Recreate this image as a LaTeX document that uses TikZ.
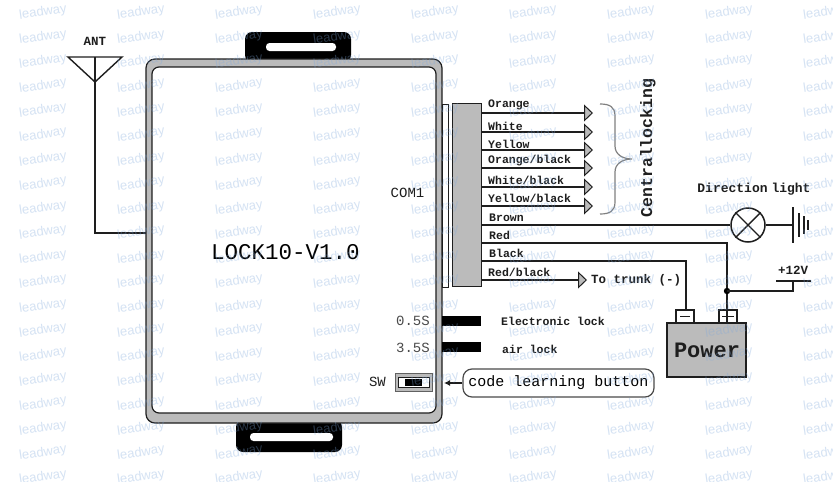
\documentclass[tikz,border=0pt]{standalone}
\usepackage{fontspec}
\setmainfont{Liberation Serif}
\setmonofont{Liberation Mono}
\newfontfamily\wmfont{Liberation Sans}
\usetikzlibrary{arrows.meta,calc}
\definecolor{ink}{HTML}{1E1E1E}
\definecolor{midgray}{HTML}{BBBBBB}
\definecolor{wm}{HTML}{7FA8DC}
\tikzset{
  wire/.style={draw=ink,line width=1.6pt},
  hair/.style={draw=ink,line width=1.4pt},
  tipwire/.style={wire,-{Triangle[length=9pt,width=17pt,fill=midgray,line width=1pt]},shorten >=-1pt},
  lbl/.style={font=\ttfamily\bfseries\fontsize{11.5}{12}\selectfont,text=ink,inner sep=0pt,anchor=west},
  lblc/.style={font=\ttfamily\fontsize{14}{15}\selectfont,text=ink,inner sep=0pt},
  blockbox/.style={draw=ink,fill=midgray,line width=1pt,inner sep=0pt},
  barbox/.style={fill=black,inner sep=0pt,minimum width=39pt,minimum height=10pt},
  termbox/.style={draw=ink,fill=white,line width=1.3pt,inner sep=0pt,minimum width=18pt,minimum height=13pt},
  watermark/.style={font=\wmfont\fontsize{13}{14}\selectfont,text=wm,opacity=.33,rotate=8,inner sep=0pt},
}
\begin{document}
\begin{tikzpicture}[x=1pt,y=-1pt]
\useasboundingbox[fill=white] (0,0) rectangle (833,482);

% mounting tabs
\fill[black,rounded corners=7pt] (245,62) -- (245,32) -- (351,32) -- (351,62) -- cycle;
\fill[white,rounded corners=3.5pt] (266,43) rectangle (336,51);
\fill[black,rounded corners=7pt] (236,420) -- (236,452) -- (342,452) -- (342,420) -- cycle;
\fill[white,rounded corners=3.5pt] (250,433) rectangle (333,441);

% housing
\node[draw=ink,fill=midgray,line width=1.2pt,rounded corners=9pt,inner sep=0pt,minimum width=296pt,minimum height=364pt] (housing) at (294,241) {};
\node[draw=ink,fill=white,line width=1.2pt,rounded corners=7pt,inner sep=0pt,minimum width=284pt,minimum height=346pt] (inner) at (294,240) {};
\node[font=\ttfamily\fontsize{22.5}{24}\selectfont,text=black,inner sep=0pt] (title) at (285.5,252) {LOCK10-V1.0};

% antenna
\coordinate (anttip) at (95,82);
\coordinate (antl) at (68,57);
\coordinate (antr) at (122,57);
\coordinate (antc) at (95,57);
\coordinate (antb) at (95,233);
\coordinate (anth) at (146,233);
\draw[hair,line join=miter] (antl) -- (antr) -- (anttip) -- cycle;
\draw[hair] (antc) -- (antb) -- (anth);
\node[font=\ttfamily\bfseries\fontsize{12.5}{13}\selectfont,text=ink,inner sep=0pt] (ant) at (95,41) {ANT};

% connector
\node[draw=ink,fill=white,line width=1pt,inner sep=0pt,minimum width=6pt,minimum height=183pt] (strip) at (445,195.5) {};
\node[blockbox,minimum width=29pt,minimum height=183pt] (block) at (466.5,194.5) {};
\node[lblc,anchor=center] (com) at (407.5,193) {COM1};

% locking wires
\foreach \n/\y/\ly/\t in {1/113/105/Orange,2/132/126/White,3/150/144/Yellow,4/168/161/Orange\slash black,5/187/180/White\slash black,6/206/198/Yellow\slash black}{
  \coordinate (ws\n) at (481,\y);
  \coordinate (we\n) at (592,\y);
  \draw[tipwire] (ws\n) -- (we\n);
  \node[lbl] (wl\n) at (488,\ly) {\t};
}

% brace
\coordinate (bt) at (600,104);
\coordinate (bm) at (632,159);
\coordinate (bb) at (600,214);
\draw[draw=gray,line width=1.2pt] (bt) .. controls (610,104) and (615,107) .. (615,116) -- (615,146) .. controls (615,154) and (622,159) .. (bm) .. controls (622,159) and (615,164) .. (615,172) -- (615,202) .. controls (615,211) and (610,214) .. (bb);
\node[font=\ttfamily\bfseries\fontsize{16.5}{17}\selectfont,text=ink,inner sep=0pt,rotate=90] (cl) at (648,148) {Centrallocking};

% other wires
\node[lbl] (wl7) at (489,218) {Brown};
\node[lbl] (wl8) at (489,235) {Red};
\node[lbl] (wl9) at (489,253) {Black};
\node[lbl] (wl10) at (488,272) {Red\slash black};

% lamp and ground
\node[draw=ink,fill=white,circle,line width=1.5pt,minimum size=34pt,inner sep=0pt] (lamp) at (748,225) {};
\draw[hair] (lamp.north west) -- (lamp.south east) (lamp.north east) -- (lamp.south west);
\coordinate (brs) at (481,225);
\draw[wire] (brs) -- (lamp.west);
\coordinate (g1t) at (793,207); \coordinate (g1b) at (793,243); \coordinate (g1m) at (793,225);
\draw[wire] (lamp.east) -- (g1m);
\draw[draw=ink,line width=1.6pt] (g1t) -- (g1b);
\coordinate (g2t) at (799,213); \coordinate (g2b) at (799,237);
\coordinate (g3t) at (804,216); \coordinate (g3b) at (804,234);
\coordinate (g4t) at (808,220); \coordinate (g4b) at (808,230);
\draw[draw=ink,line width=1.3pt] (g2t) -- (g2b) (g3t) -- (g3b) (g4t) -- (g4b);
\node[font=\ttfamily\bfseries\fontsize{13}{14}\selectfont,text=ink,inner sep=0pt] (dl) at (754,189) {Direction\hspace{-.3em} light};

% power
\node[draw=ink,fill=midgray,line width=1.6pt,inner sep=0pt,minimum width=79pt,minimum height=54pt] (power) at (706.5,350) {};
\node[font=\ttfamily\bfseries\fontsize{22}{24}\selectfont,text=ink,inner sep=0pt] (powert) at (707,350) {Power};
\node[termbox] (neg) at (685,316.5) {};
\node[termbox] (pos) at (728,316.5) {};
\draw[hair] (680,316.5) -- (690,316.5);
\draw[hair] (722,316.5) -- (734,316.5);

\coordinate (rs) at (481,243);
\coordinate (rc) at (727,243);
\coordinate (ks) at (481,261);
\coordinate (kc) at (686,261);
\draw[wire] (rs) -- (rc) -- (727,323);
\draw[wire] (ks) -- (kc) -- (686,310);
\coordinate (dot) at (727,291);
\fill[black] (dot) circle (3.2pt);
\coordinate (vb) at (793,281);
\coordinate (vc) at (793,291);
\coordinate (vl) at (776,281);
\coordinate (vr) at (811,281);
\draw[wire] (dot) -- (vc) -- (vb);
\draw[draw=ink,line width=1.6pt] (vl) -- (vr);
\node[font=\ttfamily\bfseries\fontsize{12.5}{14}\selectfont,text=ink,inner sep=0pt] (plus) at (793,270) {+12V};

% trunk
\coordinate (ts) at (481,280);
\coordinate (te) at (586,280);
\draw[tipwire] (ts) -- (te);
\node[lbl,font=\ttfamily\bfseries\fontsize{12.5}{14}\selectfont] (trunk) at (591,280) {To trunk (-)};

% timing bars
\node[barbox] (b05) at (461.5,321) {};
\node[barbox] (b35) at (461.5,347) {};
\node[lblc,anchor=east,text=ink!80] (t05) at (430,321) {0.5S};
\node[lblc,anchor=east,text=ink!80] (t35) at (430,348) {3.5S};
\node[lbl] (el) at (501,321) {Electronic lock};
\node[lbl] (al) at (502,349) {air lock};

% switch
\node[draw=ink!70,fill=midgray,line width=1pt,inner sep=0pt,minimum width=37pt,minimum height=18pt] (sw) at (413.5,382) {};
\node[draw=ink,fill=white,line width=.8pt,inner sep=0pt,minimum width=31pt,minimum height=10pt] (swi) at (413.5,382) {};
\node[fill=black,inner sep=0pt,minimum width=17pt,minimum height=7pt] (swk) at (413.5,382) {};
\node[lblc,anchor=east] (swl) at (386,382) {SW};
\node[draw=ink!80,fill=white,line width=1.2pt,rounded corners=9pt,inner sep=0pt,minimum width=191pt,minimum height=28pt,font=\ttfamily\fontsize{15}{16}\selectfont,text=black] (clb) at (558.5,383) {code learning button};
\coordinate (sa) at (444,383);
\draw[draw=ink,line width=1.3pt,-{Latex[length=6pt,width=6pt]}] (clb.west) -- (sa);

% watermark
\foreach \i in {0,...,8}{
  \foreach \j in {0,...,19}{
    \node[watermark] (wm\i-\j) at ({43+98*\i},{12.7+24.45*\j}) {leadway};
  }
}
\end{tikzpicture}
\end{document}
